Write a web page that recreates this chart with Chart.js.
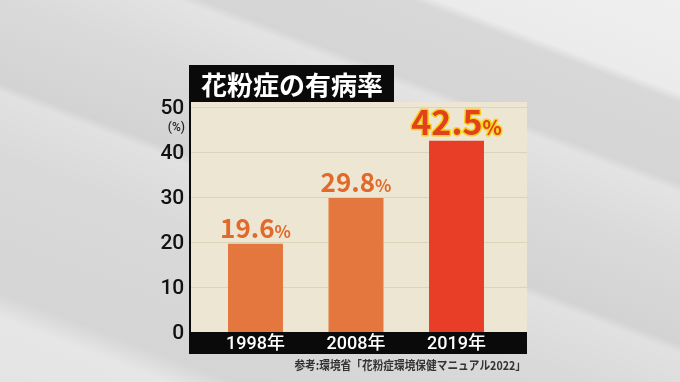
<!DOCTYPE html>
<html><head><meta charset="utf-8">
<script src="https://cdn.jsdelivr.net/npm/chart.js@4"></script>
<style>
html,body{margin:0;padding:0;width:680px;height:382px;overflow:hidden;}
body{background:linear-gradient(21deg,#e4e4e4 0%,#e6e6e6 10%,#d5d5d5 14%,#d9d9d9 35%,#e1e1e1 45%,#d3d3d3 46.5%,#dadada 60%,#e3e3e3 70%,#d5d5d5 71.5%,#d8d8d8 84%,#ebebeb 85.5%,#efefef 100%);}
canvas{display:block}
</style></head><body>
<canvas id="c" width="680" height="382"></canvas>
<script>
const categories = ['1998年', '2008年', '2019年'];
const prevalence = [19.6, 29.8, 42.5];
const valueLabels = ['19.6', '29.8', '42.5'];
const yTicks = [0, 10, 20, 30, 40, 50];
const titleText = '花粉症の有病率';
const unitText = '(%)';
const sourceText = '参考:環境省「花粉症環境保健マニュアル2022」';

const FONT = '"Noto Sans CJK JP", "Noto Sans", sans-serif';
const NUMFONT = 'Roboto, "Noto Sans CJK JP", sans-serif';
const barColors = ['#e4773e', '#e4773e', '#e83e27'];

const decor = {
  id: 'decor',
  beforeDraw(chart) {
    const ctx = chart.ctx;
    const y = chart.scales.y;
    const left = 190, right = 527, top = 102, bottom = y.getPixelForValue(0);
    ctx.save();
    ctx.fillStyle = '#ede6d3';
    ctx.fillRect(left, top, right - left, bottom - top);
    ctx.strokeStyle = '#dcd3bb';
    ctx.lineWidth = 1;
    yTicks.forEach(v => {
      if (v === 0) return;
      const py = Math.round(y.getPixelForValue(v)) + 0.5;
      ctx.beginPath(); ctx.moveTo(left, py); ctx.lineTo(right, py); ctx.stroke();
    });
    ctx.fillStyle = '#0a0a0a';
    ctx.fillRect(left, bottom, right - left, 22);
    ctx.fillRect(189, top, 2, bottom + 22 - top);
    ctx.fillRect(189, 65, 205, 37);
    ctx.fillStyle = '#ffffff';
    ctx.font = 'bold 26px ' + FONT;
    ctx.textAlign = 'center';
    ctx.textBaseline = 'middle';
    ctx.fillText(titleText, 292, 85);
    ctx.fillStyle = '#222';
    ctx.font = '500 12px ' + NUMFONT;
    ctx.textAlign = 'right';
    ctx.fillText(unitText, 185, 128);
    ctx.fillStyle = '#333';
    ctx.font = 'bold 12px ' + FONT;
    ctx.textAlign = 'right';
    ctx.translate(526, 365);
    ctx.scale(0.89, 1);
    ctx.fillText(sourceText, 0, 0);
    ctx.restore();
  },
  afterDatasetsDraw(chart) {
    const ctx = chart.ctx;
    const meta = chart.getDatasetMeta(0);
    ctx.save();
    ctx.textBaseline = 'alphabetic';
    ctx.textAlign = 'left';
    meta.data.forEach((bar, i) => {
      const big = i === 2;
      const numSize = big ? 34 : 26;
      const pctSize = big ? 20 : 17;
      const numFont = 'bold ' + numSize + 'px ' + FONT;
      const pctFont = 'bold ' + pctSize + 'px ' + FONT;
      ctx.font = numFont;
      const wNum = ctx.measureText(valueLabels[i]).width;
      ctx.font = pctFont;
      const wPct = ctx.measureText('%').width;
      const x0 = bar.x - (wNum + wPct) / 2;
      const base = bar.y - 6;
      if (big) {
        ctx.strokeStyle = '#f6d31a';
        ctx.lineWidth = 3;
        ctx.lineJoin = 'round';
        ctx.font = numFont; ctx.strokeText(valueLabels[i], x0, base);
        ctx.font = pctFont; ctx.strokeText('%', x0 + wNum, base);
        ctx.fillStyle = '#e2401f';
      } else {
        ctx.fillStyle = '#e2692a';
      }
      ctx.font = numFont; ctx.fillText(valueLabels[i], x0, base);
      ctx.font = pctFont; ctx.fillText('%', x0 + wNum, base);
    });
    ctx.restore();
  }
};

new Chart(document.getElementById('c'), {
  type: 'bar',
  data: {
    labels: categories,
    datasets: [{
      data: prevalence,
      backgroundColor: barColors,
      borderWidth: 0,
      categoryPercentage: 1,
      barPercentage: 0.547
    }]
  },
  options: {
    responsive: false,
    animation: false,
    devicePixelRatio: 1,
    layout: { padding: { left: 0, right: 173.25, top: 107, bottom: 0 } },
    plugins: { legend: { display: false }, tooltip: { enabled: false }, title: { display: false } },
    scales: {
      x: {
        grid: { display: false, drawTicks: false },
        border: { display: false },
        ticks: { color: '#ffffff', padding: 2, font: { family: NUMFONT, size: 18, weight: '500' } },
        afterFit(s) { s.height = 50; }
      },
      y: {
        min: 0, max: 50,
        afterBuildTicks(s) { s.ticks = yTicks.map(v => ({ value: v })); },
        grid: { display: false, drawTicks: false },
        border: { display: false },
        ticks: { color: '#111111', padding: 21, labelOffset: 2, font: { family: NUMFONT, size: 21, weight: '500' } },
        afterFit(s) { s.width = 205.25; }
      }
    }
  },
  plugins: [decor]
});
</script>
</body></html>
